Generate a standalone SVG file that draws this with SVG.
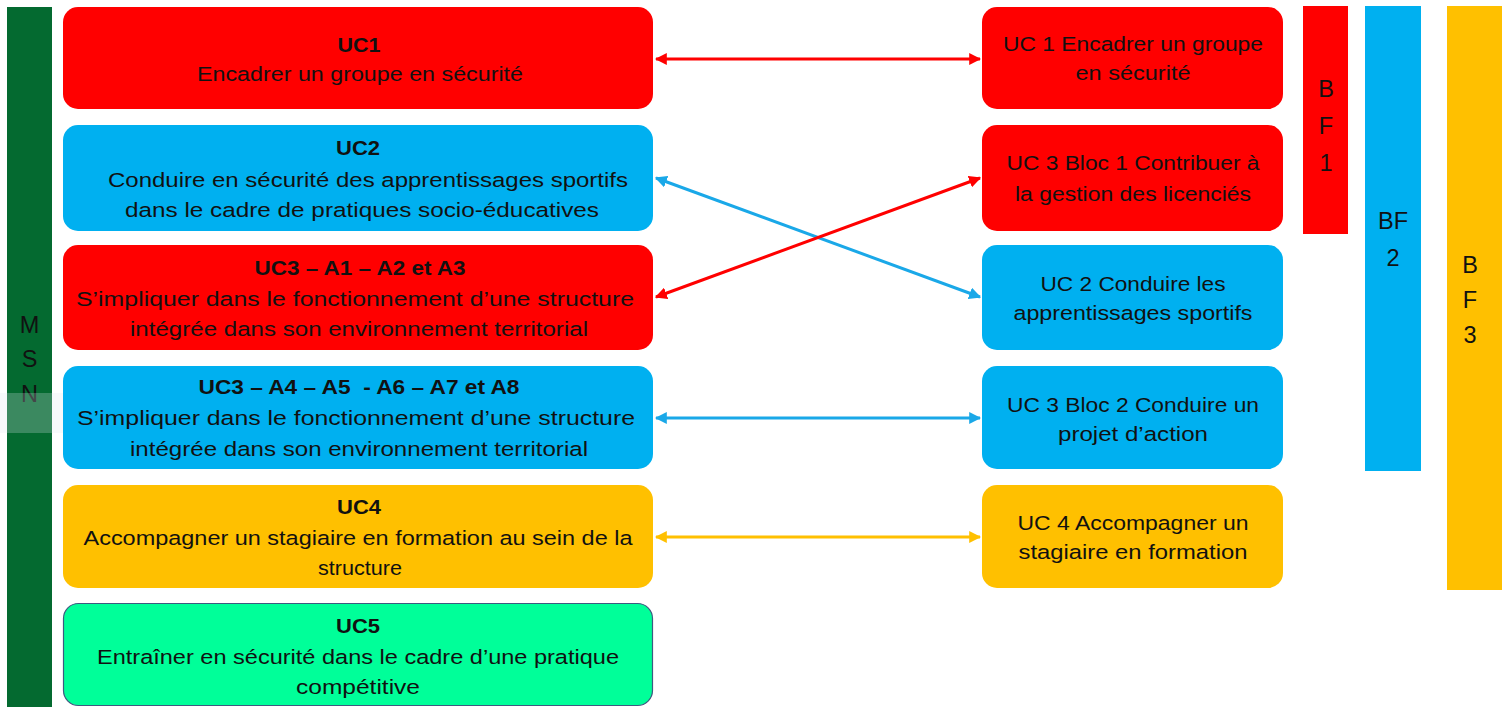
<svg xmlns="http://www.w3.org/2000/svg" width="1502" height="707" viewBox="0 0 1502 707">
<style>
text{font-family:"Liberation Sans",Arial,sans-serif;font-size:20.5px;fill:#111;text-anchor:middle}
.b{font-weight:bold}
.big{font-size:23.5px}
.red{fill:#ff0000}
.blue{fill:#00b0f0}
.orange{fill:#ffc000}
.green{fill:#00ff99;stroke:#3d5a80;stroke-width:1.2}
.c{fill:none;stroke-width:3}
</style>
<defs>
<marker id="ar" viewBox="0 0 10 10" refX="9" refY="5" markerWidth="4" markerHeight="4" orient="auto-start-reverse" markerUnits="strokeWidth"><path d="M0,0 L10,5 L0,10 z" fill="#ff0000"/></marker>
<marker id="ab" viewBox="0 0 10 10" refX="9" refY="5" markerWidth="4" markerHeight="4" orient="auto-start-reverse" markerUnits="strokeWidth"><path d="M0,0 L10,5 L0,10 z" fill="#1aa8e8"/></marker>
<marker id="ao" viewBox="0 0 10 10" refX="9" refY="5" markerWidth="4" markerHeight="4" orient="auto-start-reverse" markerUnits="strokeWidth"><path d="M0,0 L10,5 L0,10 z" fill="#ffc000"/></marker>
</defs>
<rect width="1502" height="707" fill="#ffffff"/>
<g id="msn">
<rect x="7" y="7" width="45" height="702" fill="#046a30"/>
<text class="big" x="29.5" y="333">M</text>
<text class="big" x="29.5" y="367">S</text>
<text class="big" x="29.5" y="402">N</text>
</g>
<rect x="0" y="393" width="100" height="40" fill="#dfe8f0" opacity="0.25"/>
<g id="uc1">
<rect class="red" x="63" y="7" width="590" height="102" rx="15"/>
<text class="b" x="359" y="52" textLength="43" lengthAdjust="spacingAndGlyphs">UC1</text>
<text x="360" y="81" textLength="326" lengthAdjust="spacingAndGlyphs">Encadrer un groupe en sécurité</text>
</g>
<g id="uc2">
<rect class="blue" x="63" y="125" width="590" height="106" rx="15"/>
<text class="b" x="358" y="155" textLength="44" lengthAdjust="spacingAndGlyphs">UC2</text>
<text x="368" y="187" textLength="520" lengthAdjust="spacingAndGlyphs">Conduire en sécurité des apprentissages sportifs</text>
<text x="362" y="217" textLength="474" lengthAdjust="spacingAndGlyphs">dans le cadre de pratiques socio-éducatives</text>
</g>
<g id="uc3a">
<rect class="red" x="63" y="245" width="590" height="105" rx="15"/>
<text class="b" x="360" y="275" textLength="211" lengthAdjust="spacingAndGlyphs">UC3 – A1 – A2 et A3</text>
<text x="355" y="306" textLength="558" lengthAdjust="spacingAndGlyphs">S’impliquer dans le fonctionnement d’une structure</text>
<text x="359" y="336" textLength="458" lengthAdjust="spacingAndGlyphs">intégrée dans son environnement territorial</text>
</g>
<g id="uc3b">
<rect class="blue" x="63" y="366" width="590" height="103" rx="15"/>
<text class="b" x="359" y="394" textLength="321" lengthAdjust="spacingAndGlyphs" xml:space="preserve">UC3 – A4 – A5  - A6 – A7 et A8</text>
<text x="356" y="425" textLength="558" lengthAdjust="spacingAndGlyphs">S’impliquer dans le fonctionnement d’une structure</text>
<text x="359" y="456" textLength="458" lengthAdjust="spacingAndGlyphs">intégrée dans son environnement territorial</text>
</g>
<g id="uc4">
<rect class="orange" x="63" y="485" width="590" height="103" rx="15"/>
<text class="b" x="359" y="514" textLength="44" lengthAdjust="spacingAndGlyphs">UC4</text>
<text x="358" y="545" textLength="549" lengthAdjust="spacingAndGlyphs">Accompagner un stagiaire en formation au sein de la</text>
<text x="360" y="575" textLength="84" lengthAdjust="spacingAndGlyphs">structure</text>
</g>
<g id="uc5">
<rect class="green" x="63.5" y="603.5" width="589" height="102" rx="15"/>
<text class="b" x="358" y="633" textLength="44" lengthAdjust="spacingAndGlyphs">UC5</text>
<text x="358" y="664" textLength="522" lengthAdjust="spacingAndGlyphs">Entraîner en sécurité dans le cadre d’une pratique</text>
<text x="358" y="694" textLength="124" lengthAdjust="spacingAndGlyphs">compétitive</text>
</g>
<g id="r-uc1">
<rect class="red" x="982" y="7" width="301" height="102" rx="15"/>
<text x="1133" y="51" textLength="260" lengthAdjust="spacingAndGlyphs">UC 1 Encadrer un groupe</text>
<text x="1133" y="80" textLength="115" lengthAdjust="spacingAndGlyphs">en sécurité</text>
</g>
<g id="r-uc3b1">
<rect class="red" x="982" y="125" width="301" height="106" rx="15"/>
<text x="1133" y="170" textLength="253" lengthAdjust="spacingAndGlyphs">UC 3 Bloc 1 Contribuer à</text>
<text x="1133" y="201" textLength="236" lengthAdjust="spacingAndGlyphs">la gestion des licenciés</text>
</g>
<g id="r-uc2">
<rect class="blue" x="982" y="245" width="301" height="105" rx="15"/>
<text x="1133" y="291" textLength="185" lengthAdjust="spacingAndGlyphs">UC 2 Conduire les</text>
<text x="1133" y="320" textLength="239" lengthAdjust="spacingAndGlyphs">apprentissages sportifs</text>
</g>
<g id="r-uc3b2">
<rect class="blue" x="982" y="366" width="301" height="103" rx="15"/>
<text x="1133" y="412" textLength="252" lengthAdjust="spacingAndGlyphs">UC 3 Bloc 2 Conduire un</text>
<text x="1133" y="441" textLength="150" lengthAdjust="spacingAndGlyphs">projet d’action</text>
</g>
<g id="r-uc4">
<rect class="orange" x="982" y="485" width="301" height="103" rx="15"/>
<text x="1133" y="530" textLength="231" lengthAdjust="spacingAndGlyphs">UC 4 Accompagner un</text>
<text x="1133" y="559" textLength="229" lengthAdjust="spacingAndGlyphs">stagiaire en formation</text>
</g>
<g id="bf1">
<rect class="red" x="1303" y="6" width="45" height="228"/>
<text class="big" x="1326" y="97">B</text>
<text class="big" x="1326" y="134">F</text>
<text class="big" x="1326" y="171">1</text>
</g>
<g id="bf2">
<rect class="blue" x="1365" y="6" width="56" height="465"/>
<text class="big" x="1393" y="229">BF</text>
<text class="big" x="1393" y="266">2</text>
</g>
<g id="bf3">
<rect class="orange" x="1447" y="6" width="55" height="584"/>
<text class="big" x="1470" y="273">B</text>
<text class="big" x="1470" y="308">F</text>
<text class="big" x="1470" y="343">3</text>
</g>
<g id="connectors">
<line class="c" x1="656" y1="59" x2="980" y2="59" stroke="#ff0000" marker-start="url(#ar)" marker-end="url(#ar)"/>
<line class="c" x1="656" y1="178" x2="980" y2="297" stroke="#1aa8e8" marker-start="url(#ab)" marker-end="url(#ab)"/>
<line class="c" x1="656" y1="297" x2="980" y2="178" stroke="#ff0000" marker-start="url(#ar)" marker-end="url(#ar)"/>
<line class="c" x1="656" y1="418" x2="980" y2="418" stroke="#1aa8e8" marker-start="url(#ab)" marker-end="url(#ab)"/>
<line class="c" x1="656" y1="537" x2="980" y2="537" stroke="#ffc000" marker-start="url(#ao)" marker-end="url(#ao)"/>
</g>
</svg>
